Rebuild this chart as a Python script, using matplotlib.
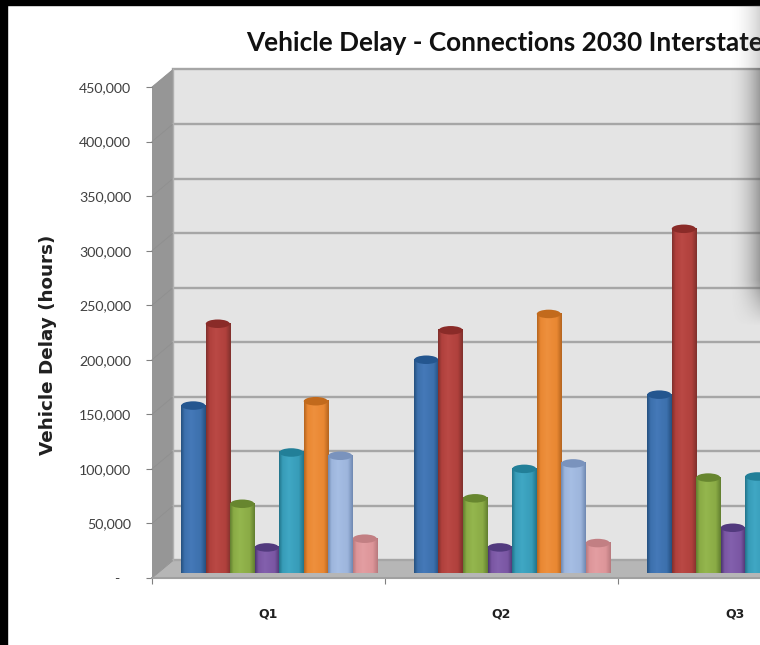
import numpy as np
import matplotlib
matplotlib.use("Agg")
import matplotlib.pyplot as plt
from matplotlib.colors import LinearSegmentedColormap
from matplotlib.patches import Ellipse, PathPatch, Polygon, Rectangle
from matplotlib.path import Path

plt.rcParams["font.family"] = ["Lato", "DejaVu Sans"]

# Data (Q3 is cut off by the image edge)
quarters = ["Q1", "Q2", "Q3"]
series_1 = [150000, 192000, 160000]
series_2 = [225000, 219000, 312000]
series_3 = [60000, 65000, 84000]
series_4 = [20000, 20000, 38000]
series_5 = [107000, 92000, 85000]
series_6 = [154000, 234000]
series_7 = [104000, 97000]
series_8 = [28000, 24000]
y_ticks = [0, 50000, 100000, 150000, 200000, 250000, 300000, 350000, 400000, 450000]

all_series = [series_1, series_2, series_3, series_4,
              series_5, series_6, series_7, series_8]
# edge, body, highlight, top cap
bar_colors = [
    ("#25507f", "#3c70ad", "#4579b8", "#24568f"),
    ("#80302d", "#b0403c", "#ba4945", "#8a2b28"),
    ("#627f30", "#8aab45", "#94b64e", "#67862f"),
    ("#4b3570", "#7a56a3", "#8360ad", "#523a7e"),
    ("#22748a", "#379cb8", "#40a7c4", "#227f98"),
    ("#b5651f", "#e98732", "#ee903d", "#c26a1c"),
    ("#7089b2", "#9db5dc", "#a6bee4", "#7a93bd"),
    ("#b87a7e", "#dd9599", "#e39ea2", "#c27f83"),
]

px_cat = 233.0       # pixels per category
px_val = 54.5 / 50000  # pixels per unit of value
depth_x = 21 / px_cat
depth_y = 17.5 / px_val
bar_w = 24.5 / px_cat
cap_h = 8.5 / px_val

fig = plt.figure(figsize=(7.6, 6.45), dpi=100, facecolor="white")

# Black frame on the top and left of the screenshot
fig.patches.append(Rectangle((0, 0), 7 / 760, 1, transform=fig.transFigure, color="black"))
fig.patches.append(Rectangle((0, 1 - 5 / 645), 1, 5 / 645, transform=fig.transFigure, color="black"))

ax = fig.add_axes([152 / 760, (645 - 578) / 645, 608 / 760, 491 / 645])
ax.set_xlim(0, 608 / px_cat)
ax.set_ylim(0, 450000)
ax.patch.set_visible(False)
for name in ["top", "right", "left"]:
    ax.spines[name].set_visible(False)
ax.spines["bottom"].set_color("#a0a0a0")
ax.spines["bottom"].set_linewidth(1.5)

x_end = 608 / px_cat + 0.1

# Walls and floor
ax.add_patch(Polygon([(depth_x, depth_y), (x_end, depth_y), (x_end, 450000 + depth_y),
                      (depth_x, 450000 + depth_y)], fc="#e4e4e4", ec="none", clip_on=False, zorder=1))
ax.add_patch(Polygon([(0, 0), (depth_x, depth_y), (depth_x, 450000 + depth_y), (0, 450000)],
                     fc="#969696", ec="none", clip_on=False, zorder=1))
ax.add_patch(Polygon([(0, 0), (x_end, 0), (x_end, depth_y), (depth_x, depth_y)],
                     fc="#b6b6b6", ec="none", clip_on=False, zorder=1))

for v in y_ticks:
    ax.plot([depth_x, x_end], [v + depth_y, v + depth_y], color="#a6a6a6", lw=1.7,
            clip_on=False, zorder=2)
    ax.plot([0, depth_x], [v, v + depth_y], color="#8f8f8f", lw=0.6, clip_on=False, zorder=2)
ax.plot([depth_x, depth_x], [depth_y, 450000 + depth_y], color="#b0b0b0", lw=1, clip_on=False, zorder=2)

# Cylinders
z = 3
for s, values in enumerate(all_series):
    edge, body, light, cap = bar_colors[s]
    cmap = LinearSegmentedColormap.from_list(
        "bar", [(0, edge), (0.14, body), (0.4, light), (0.8, body), (1, edge)])
    grad = np.linspace(0, 1, 64).reshape(1, -1)
    for q, value in enumerate(values):
        center = q + 0.5 + depth_x / 2 + (s - 3.5) * bar_w
        left = center - bar_w / 2
        right = center + bar_w / 2
        base = depth_y / 2
        top = value + depth_y / 2
        im = ax.imshow(grad, cmap=cmap, extent=[left, right, base - cap_h / 2, top],
                       aspect="auto", zorder=z, clip_on=False)
        shape = Path(
            [(left, top), (left, base), (left, base - cap_h * 0.55), (right, base - cap_h * 0.55),
             (right, base), (right, top), (left, top)],
            [Path.MOVETO, Path.LINETO, Path.CURVE4, Path.CURVE4, Path.CURVE4, Path.LINETO, Path.CLOSEPOLY])
        clip = PathPatch(shape, transform=ax.transData, fc="none", ec="none")
        ax.add_patch(clip)
        im.set_clip_path(clip)
        ax.add_patch(Ellipse((center, top), bar_w * 0.98, cap_h, fc=cap, ec="none", zorder=z + 1))
        z += 2

ax.set_xlim(0, 608 / px_cat)
ax.set_ylim(0, 450000)

# Ticks
ax.set_yticks(y_ticks)
ax.set_yticklabels(["-   "] + [f"{v:,}" for v in y_ticks[1:]], fontsize=10.2, color="#404040")
ax.tick_params(axis="y", length=4, color="#808080", pad=11)
ax.set_xticks([0, 1, 2])
ax.set_xticklabels([])
ax.set_xticks([0.5, 1.5, 2.5], minor=True)
ax.set_xticklabels(quarters, minor=True, fontsize=9, fontweight="bold", color="#202020",
                   family="DejaVu Sans")
ax.tick_params(axis="x", which="major", length=4, color="#808080")
ax.tick_params(axis="x", which="minor", length=0, pad=21)

fig.text(246 / 760, 1 - 43 / 645, "Vehicle Delay - Connections 2030 Interstate", fontsize=18.8,
         fontweight="bold", color="#111111", ha="left", va="center")
fig.text(48 / 760, 1 - 345 / 645, "Vehicle Delay (hours)", fontsize=13.2, fontweight="bold",
         color="#202020", rotation=90, ha="center", va="center", family="DejaVu Sans")

# Soft shadow on the right edge of the screenshot
shadow = fig.add_axes([0, 0, 1, 1], zorder=20)
shadow.axis("off")
yy, xx = np.mgrid[0:645, 0:760]
ramp = np.clip((xx - 728) / 32, 0, 1)
fade = np.clip((325 - yy) / 45, 0, 1)
alpha = ramp ** 2 * fade * 0.55
alpha[yy < 68] *= 0.5
alpha[yy < 5] = 0
rgba = np.zeros((645, 760, 4))
rgba[..., :3] = 0.35
rgba[..., 3] = alpha
shadow.imshow(rgba, extent=[0, 760, 645, 0], aspect="auto")

fig.savefig("out.png", dpi=100)
